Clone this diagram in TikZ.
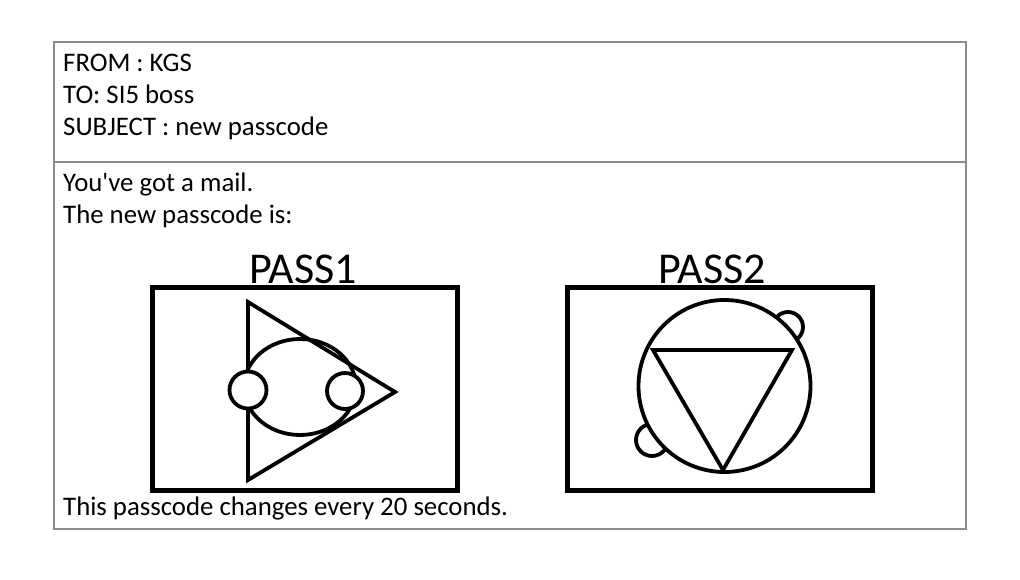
\documentclass[tikz,border=0pt]{standalone}
\usepackage{fontspec}
\setmainfont{Carlito}
\begin{document}
\begin{tikzpicture}[x=1pt,y=-1pt,
  txt/.style={anchor=base west, inner sep=0pt, font=\fontsize{26.8}{32}\selectfont},
  pass/.style={anchor=base, inner sep=0pt, font=\fontsize{44}{50}\selectfont},
  frame/.style={draw=black!45, line width=1.2pt},
  codebox/.style={draw=black, line width=5pt},
  glyph/.style={draw=black, line width=3.8pt}]
\useasboundingbox[fill=white] (0,0) rectangle (1020,580);
% mail frame
\draw[frame] (54,42) rectangle (966,529);
\coordinate (divL) at (54,162);
\coordinate (divR) at (966,162);
\draw[frame] (divL) -- (divR);
% header
\node[txt] (from) at (63,72) {FROM : KGS};
\node[txt] (to) at (63,104) {TO: SI5 boss};
\node[txt] (subj) at (63,136) {SUBJECT : new passcode};
% body
\node[txt] (mail) at (63,192) {You\textquotesingle ve got a mail.};
\node[txt] (newp) at (63,224) {The new passcode is:};
\node[txt] (every) at (63,515) {This passcode changes every 20 seconds.};
% pass labels
\node[pass] (p1) at (303,283) {PASS1};
\node[pass] (p2) at (712,283) {PASS2};
% boxes
\draw[codebox] (152.5,287.5) rectangle (457.5,490);
\draw[codebox] (567.5,287.5) rectangle (872.5,490.5);
% PASS1 glyph
\draw[glyph, line join=miter] (248,302) -- (248,480) -- (395,392) -- cycle;
\draw[glyph] (300,387) ellipse [x radius=56, y radius=48];
\draw[glyph, fill=white] (248,390) circle (18.5);
\draw[glyph, fill=white] (345,391) circle (18);
% PASS2 glyph
\draw[glyph, fill=white] (788,327) circle (15);
\draw[glyph, fill=white] (652,440) circle (16);
\draw[glyph, fill=white] (724.5,386) circle (86);
\draw[glyph, line join=miter] (653,350) -- (792,350) -- (723,470) -- cycle;
\end{tikzpicture}
\end{document}
